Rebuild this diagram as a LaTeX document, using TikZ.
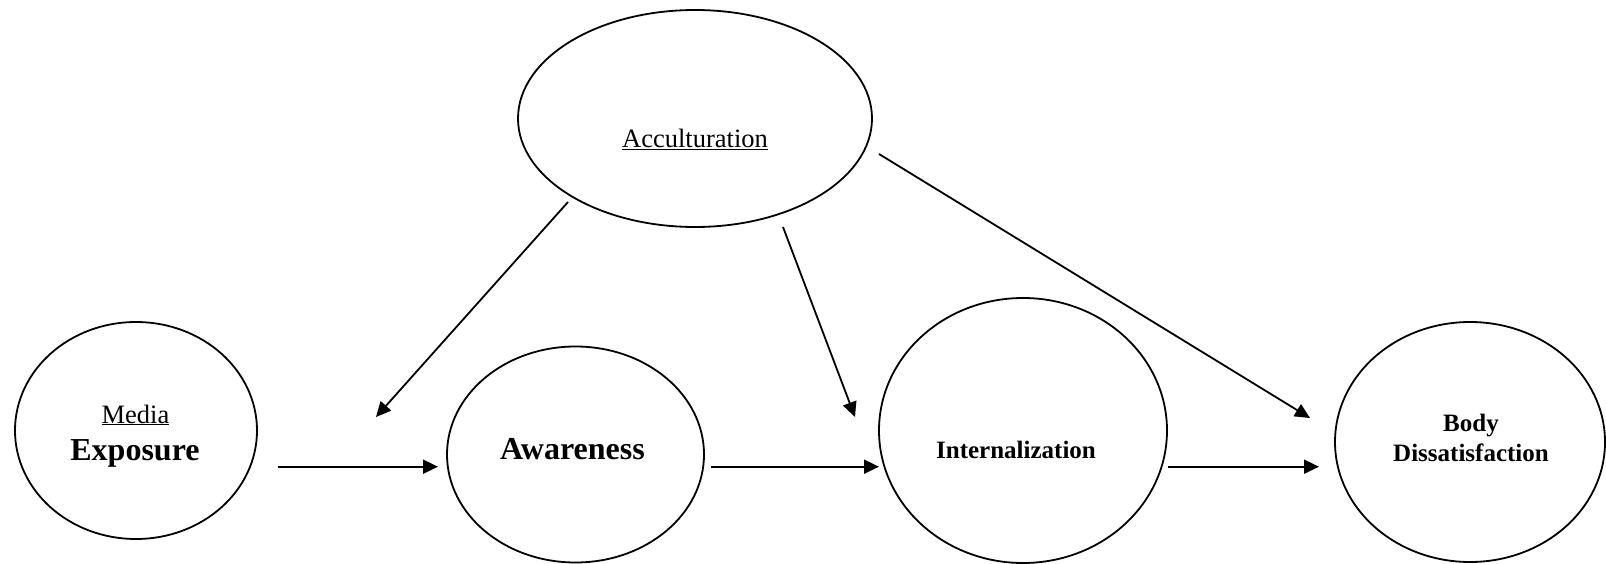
\documentclass[tikz,border=0pt]{standalone}
\usepackage{fontspec}
\setmainfont{Liberation Serif}
\usetikzlibrary{shapes.geometric,arrows.meta}
\begin{document}
\begin{tikzpicture}[x=1pt,y=-1pt,
  latent/.style={draw,ellipse,line width=1.8pt,inner sep=0pt},
  conn/.style={line width=1.8pt,-{Triangle[length=15pt,width=14pt]}},
  lbl/.style={anchor=base,inner sep=0pt}]
\useasboundingbox (0,0) rectangle (1606,564);
% ellipses
\node[latent,minimum width=354pt,minimum height=217pt] (acc) at (695,118.5) {};
\node[latent,minimum width=242pt,minimum height=217pt] (med) at (136,430.5) {};
\node[latent,minimum width=257pt,minimum height=216pt] (awa) at (575.5,454.5) {};
\node[latent,minimum width=288pt,minimum height=265pt] (int) at (1023,430.5) {};
\node[latent,minimum width=270pt,minimum height=240pt] (bod) at (1470,442) {};
% labels
\node[lbl] (accT) at (695,148) {\fontsize{26.5}{30}\selectfont\underline{Acculturation}};
\node[lbl] (medT) at (135.5,423) {\fontsize{26.5}{30}\selectfont\underline{Media}};
\node[lbl] (expT) at (135,460) {\fontsize{32}{36}\selectfont\bfseries Exposure};
\node[lbl] (awaT) at (572.5,459) {\fontsize{32}{36}\selectfont\bfseries Awareness};
\node[lbl] (intT) at (1016,458) {\fontsize{25}{30}\selectfont\bfseries Internalization};
\node[lbl] (bodT) at (1471,431.7) {\fontsize{25}{30}\selectfont\bfseries Body};
\node[lbl] (disT) at (1471,461.7) {\fontsize{25}{30}\selectfont\bfseries Dissatisfaction};
% connector end points
\coordinate (a1s) at (278,466.7);
\coordinate (a1e) at (438,466.7);
\coordinate (a2s) at (711,466.7);
\coordinate (a2e) at (879,466.7);
\coordinate (a3s) at (1168,466.7);
\coordinate (a3e) at (1319,466.7);
\coordinate (d1s) at (568,202);
\coordinate (d1e) at (376,417);
\coordinate (d2s) at (783,227);
\coordinate (d2e) at (855,417);
\coordinate (d3s) at (879,154);
\coordinate (d3e) at (1310,418);
% connectors
\draw[conn] (a1s) -- (a1e);
\draw[conn] (a2s) -- (a2e);
\draw[conn] (a3s) -- (a3e);
\draw[conn] (d1s) -- (d1e);
\draw[conn] (d2s) -- (d2e);
\draw[conn] (d3s) -- (d3e);
\end{tikzpicture}
\end{document}
